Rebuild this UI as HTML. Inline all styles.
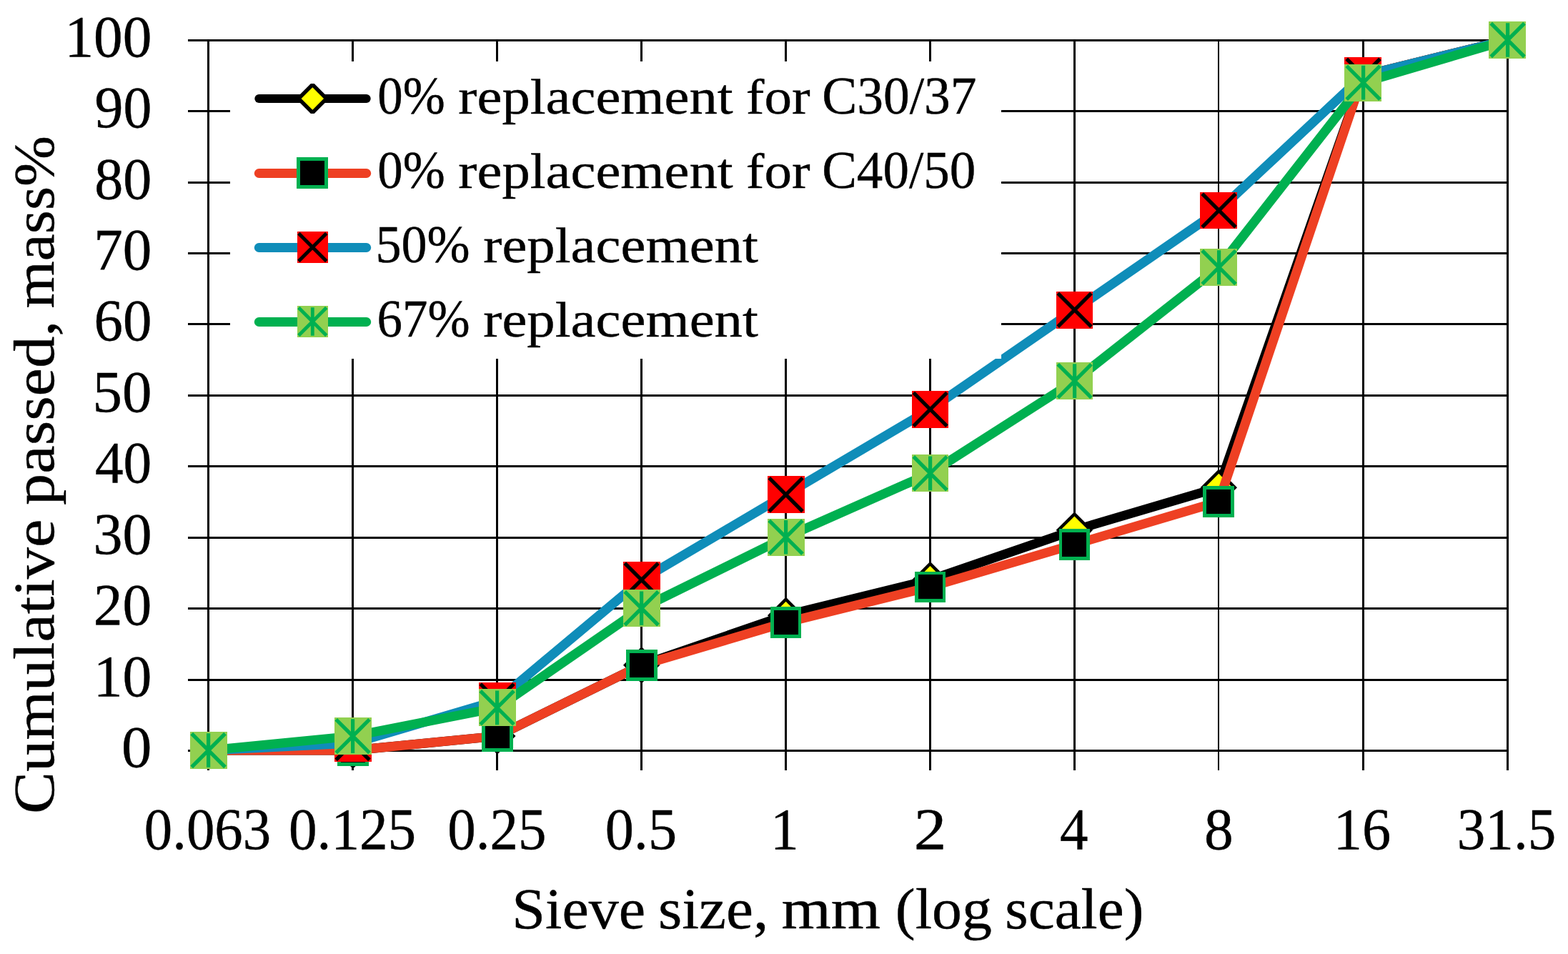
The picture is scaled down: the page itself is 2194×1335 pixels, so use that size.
<!DOCTYPE html>
<html lang="en"><head><meta charset="utf-8"><title>Sieve curves</title>
<style>html,body{margin:0;padding:0;background:#fff}body{width:2194px;height:1335px;overflow:hidden}svg{display:block}text{font-family:'Liberation Serif', serif;fill:#000;stroke:#000;stroke-width:0.4px;stroke-linejoin:round}</style>
</head><body>
<svg width="2194" height="1335" viewBox="0 0 2194 1335">
<rect x="0" y="0" width="2194" height="1335" fill="#ffffff"/>
<g fill="#000" shape-rendering="crispEdges">
<rect x="263" y="55" width="1848" height="3"/>
<rect x="263" y="154" width="1848" height="3"/>
<rect x="263" y="254" width="1848" height="3"/>
<rect x="263" y="353" width="1848" height="3"/>
<rect x="263" y="452" width="1848" height="3"/>
<rect x="263" y="552" width="1848" height="3"/>
<rect x="263" y="651" width="1848" height="3"/>
<rect x="263" y="751" width="1848" height="3"/>
<rect x="263" y="850" width="1848" height="3"/>
<rect x="263" y="950" width="1848" height="3"/>
<rect x="263" y="1049" width="1848" height="3"/>
<rect x="290" y="55" width="3" height="1023"/>
<rect x="492" y="55" width="3" height="1023"/>
<rect x="694" y="55" width="3" height="1023"/>
<rect x="896" y="55" width="3" height="1023"/>
<rect x="1098" y="55" width="3" height="1023"/>
<rect x="1300" y="55" width="3" height="1023"/>
<rect x="1502" y="55" width="3" height="1023"/>
<rect x="1704" y="55" width="2" height="1023"/>
<rect x="1906" y="55" width="3" height="1023"/>
<rect x="2108" y="55" width="3" height="1023"/>
</g>
<g id="series">
<polyline points="292,1050 493.9,1050 695.8,1030.12 897.7,930.72 1099.6,861.14 1301.5,811.44 1503.4,741.86 1705.3,682.22 1907.2,105.7 2109.1,56" fill="none" stroke="#000000" stroke-width="13" stroke-linejoin="round" stroke-linecap="round"/>
<path d="M292 1024.3 L317.7 1050 L292 1075.7 L266.3 1050Z" fill="#000"/>
<path d="M292 1030.6 L311.4 1050 L292 1069.4 L272.6 1050Z" fill="#FFFF00"/>
<path d="M493.9 1024.3 L519.6 1050 L493.9 1075.7 L468.2 1050Z" fill="#000"/>
<path d="M493.9 1030.6 L513.3 1050 L493.9 1069.4 L474.5 1050Z" fill="#FFFF00"/>
<path d="M695.8 1004.42 L721.5 1030.12 L695.8 1055.82 L670.1 1030.12Z" fill="#000"/>
<path d="M695.8 1010.72 L715.2 1030.12 L695.8 1049.52 L676.4 1030.12Z" fill="#FFFF00"/>
<path d="M897.7 905.02 L923.4 930.72 L897.7 956.42 L872 930.72Z" fill="#000"/>
<path d="M897.7 911.32 L917.1 930.72 L897.7 950.12 L878.3 930.72Z" fill="#FFFF00"/>
<path d="M1099.6 835.44 L1125.3 861.14 L1099.6 886.84 L1073.9 861.14Z" fill="#000"/>
<path d="M1099.6 841.74 L1119 861.14 L1099.6 880.54 L1080.2 861.14Z" fill="#FFFF00"/>
<path d="M1301.5 785.74 L1327.2 811.44 L1301.5 837.14 L1275.8 811.44Z" fill="#000"/>
<path d="M1301.5 792.04 L1320.9 811.44 L1301.5 830.84 L1282.1 811.44Z" fill="#FFFF00"/>
<path d="M1503.4 716.16 L1529.1 741.86 L1503.4 767.56 L1477.7 741.86Z" fill="#000"/>
<path d="M1503.4 722.46 L1522.8 741.86 L1503.4 761.26 L1484 741.86Z" fill="#FFFF00"/>
<path d="M1705.3 656.52 L1731 682.22 L1705.3 707.92 L1679.6 682.22Z" fill="#000"/>
<path d="M1705.3 662.82 L1724.7 682.22 L1705.3 701.62 L1685.9 682.22Z" fill="#FFFF00"/>
<path d="M1907.2 80 L1932.9 105.7 L1907.2 131.4 L1881.5 105.7Z" fill="#000"/>
<path d="M1907.2 86.3 L1926.6 105.7 L1907.2 125.1 L1887.8 105.7Z" fill="#FFFF00"/>
<path d="M2109.1 30.3 L2134.8 56 L2109.1 81.7 L2083.4 56Z" fill="#000"/>
<path d="M2109.1 36.6 L2128.5 56 L2109.1 75.4 L2089.7 56Z" fill="#FFFF00"/>
<polyline points="292,1050 493.9,1050 695.8,1030.12 897.7,930.72 1099.6,871.08 1301.5,821.38 1503.4,761.74 1705.3,702.1 1907.2,105.7 2109.1,56" fill="none" stroke="#EE4023" stroke-width="13" stroke-linejoin="round" stroke-linecap="round"/>
<rect x="272.57" y="1030.58" width="38.85" height="38.85" fill="#000" stroke="#00B050" stroke-width="4.85" shape-rendering="crispEdges"/>
<rect x="474.47" y="1030.58" width="38.85" height="38.85" fill="#000" stroke="#00B050" stroke-width="4.85" shape-rendering="crispEdges"/>
<rect x="676.38" y="1010.7" width="38.85" height="38.85" fill="#000" stroke="#00B050" stroke-width="4.85" shape-rendering="crispEdges"/>
<rect x="878.28" y="911.3" width="38.85" height="38.85" fill="#000" stroke="#00B050" stroke-width="4.85" shape-rendering="crispEdges"/>
<rect x="1080.17" y="851.66" width="38.85" height="38.85" fill="#000" stroke="#00B050" stroke-width="4.85" shape-rendering="crispEdges"/>
<rect x="1282.08" y="801.96" width="38.85" height="38.85" fill="#000" stroke="#00B050" stroke-width="4.85" shape-rendering="crispEdges"/>
<rect x="1483.98" y="742.32" width="38.85" height="38.85" fill="#000" stroke="#00B050" stroke-width="4.85" shape-rendering="crispEdges"/>
<rect x="1685.88" y="682.68" width="38.85" height="38.85" fill="#000" stroke="#00B050" stroke-width="4.85" shape-rendering="crispEdges"/>
<rect x="1887.78" y="86.28" width="38.85" height="38.85" fill="#000" stroke="#00B050" stroke-width="4.85" shape-rendering="crispEdges"/>
<rect x="2089.68" y="36.58" width="38.85" height="38.85" fill="#000" stroke="#00B050" stroke-width="4.85" shape-rendering="crispEdges"/>
<polyline points="292,1050 493.9,1040.06 695.8,980.42 897.7,811.44 1099.6,692.16 1301.5,572.88 1503.4,433.72 1705.3,294.56 1907.2,105.7 2109.1,56" fill="none" stroke="#0F8DB9" stroke-width="13" stroke-linejoin="round" stroke-linecap="round"/>
<rect x="266.1" y="1024.1" width="51.8" height="51.8" fill="#FF0000" shape-rendering="crispEdges"/>
<path d="M268.2 1026.6 L315 1073.4 M315 1026.6 L268.2 1073.4" fill="none" stroke="#000" stroke-width="5.2"/>
<rect x="468" y="1014.16" width="51.8" height="51.8" fill="#FF0000" shape-rendering="crispEdges"/>
<path d="M470.2 1016.66 L517 1063.46 M517 1016.66 L470.2 1063.46" fill="none" stroke="#000" stroke-width="5.2"/>
<rect x="669.9" y="954.52" width="51.8" height="51.8" fill="#FF0000" shape-rendering="crispEdges"/>
<path d="M672.2 957.02 L719 1003.82 M719 957.02 L672.2 1003.82" fill="none" stroke="#000" stroke-width="5.2"/>
<rect x="871.8" y="785.54" width="51.8" height="51.8" fill="#FF0000" shape-rendering="crispEdges"/>
<path d="M874.2 788.04 L921 834.84 M921 788.04 L874.2 834.84" fill="none" stroke="#000" stroke-width="5.2"/>
<rect x="1073.7" y="666.26" width="51.8" height="51.8" fill="#FF0000" shape-rendering="crispEdges"/>
<path d="M1076.2 668.76 L1123 715.56 M1123 668.76 L1076.2 715.56" fill="none" stroke="#000" stroke-width="5.2"/>
<rect x="1275.6" y="546.98" width="51.8" height="51.8" fill="#FF0000" shape-rendering="crispEdges"/>
<path d="M1278.2 549.48 L1325 596.28 M1325 549.48 L1278.2 596.28" fill="none" stroke="#000" stroke-width="5.2"/>
<rect x="1477.5" y="407.82" width="51.8" height="51.8" fill="#FF0000" shape-rendering="crispEdges"/>
<path d="M1480.2 410.32 L1527 457.12 M1527 410.32 L1480.2 457.12" fill="none" stroke="#000" stroke-width="5.2"/>
<rect x="1679.4" y="268.66" width="51.8" height="51.8" fill="#FF0000" shape-rendering="crispEdges"/>
<path d="M1682.2 271.16 L1729 317.96 M1729 271.16 L1682.2 317.96" fill="none" stroke="#000" stroke-width="5.2"/>
<rect x="1881.3" y="79.8" width="51.8" height="51.8" fill="#FF0000" shape-rendering="crispEdges"/>
<path d="M1884.2 82.3 L1931 129.1 M1931 82.3 L1884.2 129.1" fill="none" stroke="#000" stroke-width="5.2"/>
<rect x="2083.2" y="30.1" width="51.8" height="51.8" fill="#FF0000" shape-rendering="crispEdges"/>
<path d="M2086.2 32.6 L2133 79.4 M2133 32.6 L2086.2 79.4" fill="none" stroke="#000" stroke-width="5.2"/>
<polyline points="292,1050 493.9,1030.12 695.8,990.36 897.7,851.2 1099.6,751.8 1301.5,662.34 1503.4,533.12 1705.3,374.08 1907.2,115.64 2109.1,56" fill="none" stroke="#00B050" stroke-width="13" stroke-linejoin="round" stroke-linecap="round"/>
<rect x="266.1" y="1024.1" width="51.8" height="51.8" fill="#92D050" shape-rendering="crispEdges"/>
<path d="M268.2 1026.6 L315 1073.4 M315 1026.6 L268.2 1073.4 M291.6 1026.2 L291.6 1073.8" fill="none" stroke="#00B050" stroke-width="5.2"/>
<rect x="468" y="1004.22" width="51.8" height="51.8" fill="#92D050" shape-rendering="crispEdges"/>
<path d="M470.2 1006.72 L517 1053.52 M517 1006.72 L470.2 1053.52 M493.6 1006.32 L493.6 1053.92" fill="none" stroke="#00B050" stroke-width="5.2"/>
<rect x="669.9" y="964.46" width="51.8" height="51.8" fill="#92D050" shape-rendering="crispEdges"/>
<path d="M672.2 966.96 L719 1013.76 M719 966.96 L672.2 1013.76 M695.6 966.56 L695.6 1014.16" fill="none" stroke="#00B050" stroke-width="5.2"/>
<rect x="871.8" y="825.3" width="51.8" height="51.8" fill="#92D050" shape-rendering="crispEdges"/>
<path d="M874.2 827.8 L921 874.6 M921 827.8 L874.2 874.6 M897.6 827.4 L897.6 875" fill="none" stroke="#00B050" stroke-width="5.2"/>
<rect x="1073.7" y="725.9" width="51.8" height="51.8" fill="#92D050" shape-rendering="crispEdges"/>
<path d="M1076.2 728.4 L1123 775.2 M1123 728.4 L1076.2 775.2 M1099.6 728 L1099.6 775.6" fill="none" stroke="#00B050" stroke-width="5.2"/>
<rect x="1275.6" y="636.44" width="51.8" height="51.8" fill="#92D050" shape-rendering="crispEdges"/>
<path d="M1278.2 638.94 L1325 685.74 M1325 638.94 L1278.2 685.74 M1301.6 638.54 L1301.6 686.14" fill="none" stroke="#00B050" stroke-width="5.2"/>
<rect x="1477.5" y="507.22" width="51.8" height="51.8" fill="#92D050" shape-rendering="crispEdges"/>
<path d="M1480.2 509.72 L1527 556.52 M1527 509.72 L1480.2 556.52 M1503.6 509.32 L1503.6 556.92" fill="none" stroke="#00B050" stroke-width="5.2"/>
<rect x="1679.4" y="348.18" width="51.8" height="51.8" fill="#92D050" shape-rendering="crispEdges"/>
<path d="M1682.2 350.68 L1729 397.48 M1729 350.68 L1682.2 397.48 M1705.6 350.28 L1705.6 397.88" fill="none" stroke="#00B050" stroke-width="5.2"/>
<rect x="1881.3" y="89.74" width="51.8" height="51.8" fill="#92D050" shape-rendering="crispEdges"/>
<path d="M1884.2 92.24 L1931 139.04 M1931 92.24 L1884.2 139.04 M1907.6 91.84 L1907.6 139.44" fill="none" stroke="#00B050" stroke-width="5.2"/>
<rect x="2083.2" y="30.1" width="51.8" height="51.8" fill="#92D050" shape-rendering="crispEdges"/>
<path d="M2086.2 32.6 L2133 79.4 M2133 32.6 L2086.2 79.4 M2109.6 32.2 L2109.6 79.8" fill="none" stroke="#00B050" stroke-width="5.2"/>
</g>
<rect x="322" y="86" width="1079" height="416" fill="#fff"/>
<g id="legend">
<line x1="362.3" y1="138" x2="512.7" y2="138" stroke="#000000" stroke-width="12" stroke-linecap="round"/>
<path d="M434.9 117 L439.7 117 L460.7 138 L439.7 159 L434.9 159 L413.9 138Z" fill="#000"/>
<path d="M437.3 122.3 L453 138 L437.3 153.7 L421.6 138Z" fill="#FFFF00"/>
<line x1="362.3" y1="242.5" x2="512.7" y2="242.5" stroke="#EE4023" stroke-width="13" stroke-linecap="round"/>
<rect x="417.82" y="222.43" width="38.95" height="38.95" fill="#000" stroke="#00B050" stroke-width="4.85" shape-rendering="crispEdges"/>
<line x1="362.3" y1="346.5" x2="512.7" y2="346.5" stroke="#0F8DB9" stroke-width="13" stroke-linecap="round"/>
<rect x="415.5" y="324.1" width="43.6" height="43.6" fill="#FF0000" shape-rendering="crispEdges"/>
<path d="M417.8 326.4 L456.8 365.4 M456.8 326.4 L417.8 365.4" fill="none" stroke="#000" stroke-width="5"/>
<line x1="362.3" y1="450.5" x2="512.7" y2="450.5" stroke="#00B050" stroke-width="13" stroke-linecap="round"/>
<rect x="415.5" y="428.2" width="43.6" height="43.6" fill="#92D050" shape-rendering="crispEdges"/>
<path d="M417.8 430.5 L456.8 469.5 M456.8 430.5 L417.8 469.5 M437.3 430.3 L437.3 469.7" fill="none" stroke="#00B050" stroke-width="4.8"/>
</g>
<g id="ylabels">
<text transform="translate(0 79)" font-size="82.5"><tspan x="90.38" textLength="121.97" lengthAdjust="spacingAndGlyphs">100</tspan></text>
<text transform="translate(0 178)" font-size="82.5"><tspan x="132.51" textLength="79.78" lengthAdjust="spacingAndGlyphs">90</tspan></text>
<text transform="translate(0 278)" font-size="82.5"><tspan x="132.2" textLength="80.11" lengthAdjust="spacingAndGlyphs">80</tspan></text>
<text transform="translate(0 377)" font-size="82.5"><tspan x="131.33" textLength="81.01" lengthAdjust="spacingAndGlyphs">70</tspan></text>
<text transform="translate(0 476)" font-size="82.5"><tspan x="131.46" textLength="80.87" lengthAdjust="spacingAndGlyphs">60</tspan></text>
<text transform="translate(0 576)" font-size="82.5"><tspan x="129.53" textLength="82.89" lengthAdjust="spacingAndGlyphs">50</tspan></text>
<text transform="translate(0 675)" font-size="82.5"><tspan x="132.91" textLength="79.36" lengthAdjust="spacingAndGlyphs">40</tspan></text>
<text transform="translate(0 775)" font-size="82.5"><tspan x="130.4" textLength="81.98" lengthAdjust="spacingAndGlyphs">30</tspan></text>
<text transform="translate(0 874)" font-size="82.5"><tspan x="130.83" textLength="81.53" lengthAdjust="spacingAndGlyphs">20</tspan></text>
<text transform="translate(0 974)" font-size="82.5"><tspan x="130.76" textLength="81.61" lengthAdjust="spacingAndGlyphs">10</tspan></text>
<text transform="translate(0 1073)" font-size="82.5"><tspan x="170.11" textLength="42.38" lengthAdjust="spacingAndGlyphs">0</tspan></text>
</g>
<g id="xlabels">
<text transform="translate(0 1188)" font-size="82.5"><tspan x="201.85" textLength="177.3" lengthAdjust="spacingAndGlyphs">0.063</tspan></text>
<text transform="translate(0 1188)" font-size="82.5"><tspan x="404.03" textLength="178.13" lengthAdjust="spacingAndGlyphs">0.125</tspan></text>
<text transform="translate(0 1188)" font-size="82.5"><tspan x="626.24" textLength="138.11" lengthAdjust="spacingAndGlyphs">0.25</tspan></text>
<text transform="translate(0 1188)" font-size="82.5"><tspan x="846.69" textLength="100.43" lengthAdjust="spacingAndGlyphs">0.5</tspan></text>
<text transform="translate(0 1188)" font-size="82.5"><tspan x="1077.95" textLength="39.71" lengthAdjust="spacingAndGlyphs">1</tspan></text>
<text transform="translate(0 1188)" font-size="82.5"><tspan x="1278.89" textLength="45.62" lengthAdjust="spacingAndGlyphs">2</tspan></text>
<text transform="translate(0 1188)" font-size="82.5"><tspan x="1483.12" textLength="39.46" lengthAdjust="spacingAndGlyphs">4</tspan></text>
<text transform="translate(0 1188)" font-size="82.5"><tspan x="1684.94" textLength="40.71" lengthAdjust="spacingAndGlyphs">8</tspan></text>
<text transform="translate(0 1188)" font-size="82.5"><tspan x="1865.87" textLength="80.34" lengthAdjust="spacingAndGlyphs">16</tspan></text>
<text transform="translate(0 1188)" font-size="82.5"><tspan x="2038.74" textLength="138.52" lengthAdjust="spacingAndGlyphs">31.5</tspan></text>
</g>
<g id="titles">
<text transform="translate(0 1299)" font-size="79.5"><tspan x="716.34" textLength="186.75" lengthAdjust="spacingAndGlyphs">Sieve</tspan> <tspan x="921.08" textLength="154.25" lengthAdjust="spacingAndGlyphs">size,</tspan> <tspan x="1093.62" textLength="138.48" lengthAdjust="spacingAndGlyphs">mm</tspan> <tspan x="1252.83" textLength="135.12" lengthAdjust="spacingAndGlyphs">(log</tspan> <tspan x="1406.37" textLength="193.99" lengthAdjust="spacingAndGlyphs">scale)</tspan></text>
<text transform="translate(75.3 0) rotate(-90)" font-size="79.5"><tspan x="-1138.93" textLength="412.11" lengthAdjust="spacingAndGlyphs">Cumulative</tspan> <tspan x="-707.03" textLength="258.44" lengthAdjust="spacingAndGlyphs">passed,</tspan> <tspan x="-431.51" textLength="241.62" lengthAdjust="spacingAndGlyphs">mass%</tspan></text>
</g>
<g id="legendtext">
<text transform="translate(0 159.1)" font-size="73.9"><tspan x="528.27" textLength="94.48" lengthAdjust="spacingAndGlyphs">0%</tspan> <tspan x="641.33" textLength="384.33" lengthAdjust="spacingAndGlyphs" font-size="70.5">replacement</tspan> <tspan x="1043.89" textLength="89.76" lengthAdjust="spacingAndGlyphs" font-size="70.5">for</tspan> <tspan x="1150.16" textLength="216.43" lengthAdjust="spacingAndGlyphs">C30/37</tspan></text>
<text transform="translate(0 263.4)" font-size="73.9"><tspan x="528.27" textLength="94.48" lengthAdjust="spacingAndGlyphs">0%</tspan> <tspan x="641.33" textLength="384.33" lengthAdjust="spacingAndGlyphs" font-size="70.5">replacement</tspan> <tspan x="1043.89" textLength="89.76" lengthAdjust="spacingAndGlyphs" font-size="70.5">for</tspan> <tspan x="1150.18" textLength="215.03" lengthAdjust="spacingAndGlyphs">C40/50</tspan></text>
<text transform="translate(0 367.4)" font-size="73.9"><tspan x="525.48" textLength="132.11" lengthAdjust="spacingAndGlyphs">50%</tspan> <tspan x="676.23" textLength="384.63" lengthAdjust="spacingAndGlyphs" font-size="70.5">replacement</tspan></text>
<text transform="translate(0 471.3)" font-size="73.9"><tspan x="527.51" textLength="130.04" lengthAdjust="spacingAndGlyphs">67%</tspan> <tspan x="676.23" textLength="384.63" lengthAdjust="spacingAndGlyphs" font-size="70.5">replacement</tspan></text>
</g>
</svg>
</body></html>
